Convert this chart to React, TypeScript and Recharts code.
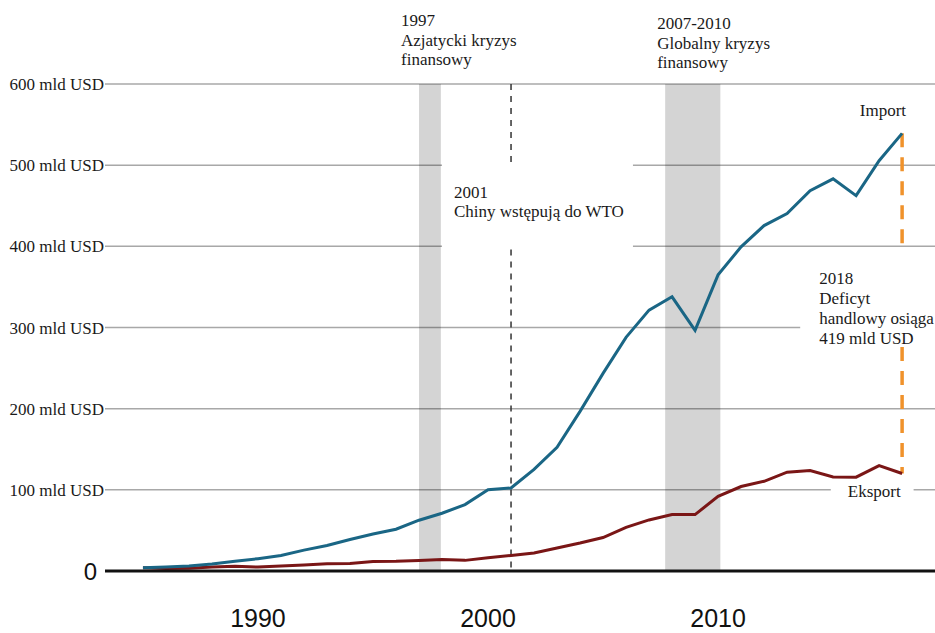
import {
  LineChart,
  Line,
  XAxis,
  YAxis,
  CartesianGrid,
  ReferenceArea,
  ReferenceLine,
} from "recharts";

const years = [
  1985, 1986, 1987, 1988, 1989, 1990, 1991, 1992, 1993, 1994, 1995, 1996,
  1997, 1998, 1999, 2000, 2001, 2002, 2003, 2004, 2005, 2006, 2007, 2008,
  2009, 2010, 2011, 2012, 2013, 2014, 2015, 2016, 2017, 2018,
];

const imports = [
  3.9, 4.8, 6.3, 8.5, 12, 15.2, 19, 25.7, 31.5, 38.8, 45.5, 51.5, 62.6, 71.2,
  81.8, 100, 102.3, 125.2, 152.4, 196.7, 243.5, 287.8, 321.4, 337.8, 296.4,
  364.9, 399.4, 425.6, 440.4, 468.5, 483.2, 462.4, 505.5, 539.2,
];

const exports = [
  3.9, 3.1, 3.5, 5, 5.8, 4.8, 6.3, 7.4, 8.8, 9.3, 11.8, 12, 12.9, 14.2, 13.1,
  16.2, 19.2, 22.1, 28.4, 34.4, 41.2, 53.7, 62.9, 69.7, 69.5, 91.9, 104.1,
  110.5, 121.7, 123.7, 115.9, 115.6, 129.9, 120.1,
];

const yTicks = [0, 100, 200, 300, 400, 500, 600];
const xTicks = [1990, 2000, 2010];

const data = years.map((year, i) => ({
  year,
  import: imports[i],
  export: exports[i],
}));

const SERIF = "'Liberation Serif', 'Times New Roman', serif";
const SANS = "'Liberation Sans', Arial, sans-serif";
const TEXT = "#1a1a1a";

const lastIdx = years.length - 1;
const wtoYear = 2001;

// white boxes behind the annotations (they break the grid lines)
const wtoBox = { x1: 1998, x2: 2006.3, y1: 396, y2: 503 };
const deficitBox = { x1: 2013.57, x2: 2019.43, y1: 276, y2: 395 };
const exportBox = { x1: 2014.9, x2: 2018.5, y1: 88, y2: 108 };

// multi-line annotation, offset from the viewBox corner of its reference element
const noteLabel =
  (lines: string[], dx: number, dy: number, gap = 19.5) =>
  (props: any) => {
    const vb = props.viewBox || {};
    return (
      <text
        x={vb.x + dx}
        y={vb.y + dy}
        fontFamily={SERIF}
        fontSize={17}
        fill={TEXT}
      >
        {lines.map((l, i) => (
          <tspan key={i} x={vb.x + dx} dy={i === 0 ? 0 : gap}>
            {l}
          </tspan>
        ))}
      </text>
    );
  };

const YTick = ({ x, y, payload }: any) =>
  payload.value === 0 ? (
    <text
      x={x - 8}
      y={y + 9}
      textAnchor="end"
      fontFamily={SANS}
      fontSize={24}
      fill="#111"
    >
      0
    </text>
  ) : (
    <text
      x={x - 1}
      y={y + 6}
      textAnchor="end"
      fontFamily={SERIF}
      fontSize={17}
      fill={TEXT}
    >
      {payload.value} mld USD
    </text>
  );

const XTick = ({ x, y, payload }: any) => (
  <text
    x={x}
    y={y + 56}
    textAnchor="middle"
    fontFamily={SANS}
    fontSize={25}
    fill="#111"
  >
    {payload.value}
  </text>
);

const ImportLabel = ({ x, y, index }: any) =>
  index === lastIdx ? (
    <text
      x={x + 4}
      y={y - 17}
      textAnchor="end"
      fontFamily={SERIF}
      fontSize={17}
      fill={TEXT}
    >
      Import
    </text>
  ) : null;

const dashWto = { stroke: "#333", strokeWidth: 1.5, strokeDasharray: "6 6" };
const dashGap = { stroke: "#f0922b", strokeWidth: 3.5, strokeDasharray: "14 10" };

export default function App() {
  return (
    <div style={{ position: "absolute", left: 0, top: 0, background: "#fff" }}>
      <LineChart
        width={935}
        height={633}
        data={data}
        margin={{ top: 84, right: 0, bottom: 0, left: 0 }}
      >
        <CartesianGrid
          horizontal
          vertical={false}
          stroke="#a8a8a8"
          strokeWidth={1.5}
        />
        <XAxis
          dataKey="year"
          type="number"
          domain={[1983.35, 2019.43]}
          ticks={xTicks}
          tickLine={false}
          tickSize={0}
          tickMargin={0}
          height={62}
          axisLine={{ stroke: "#111", strokeWidth: 3 }}
          tick={<XTick />}
        />
        <YAxis
          domain={[0, 600]}
          ticks={yTicks}
          width={105}
          axisLine={false}
          tickLine={false}
          tickSize={0}
          tickMargin={0}
          tick={<YTick />}
        />

        <ReferenceArea
          x1={1997}
          x2={1997.95}
          y1={0}
          y2={600}
          fill="#000"
          fillOpacity={0.17}
          stroke="none"
          label={noteLabel(["1997", "Azjatycki kryzys", "finansowy"], -18, -58)}
        />
        <ReferenceArea
          x1={2007.7}
          x2={2010.1}
          y1={0}
          y2={600}
          fill="#000"
          fillOpacity={0.17}
          stroke="none"
          label={noteLabel(
            ["2007-2010", "Globalny kryzys", "finansowy"],
            -8,
            -55
          )}
        />

        <ReferenceArea
          {...wtoBox}
          fill="#fff"
          fillOpacity={1}
          stroke="none"
          label={noteLabel(["2001", "Chiny wstępują do WTO"], 12, 35)}
        />
        <ReferenceArea
          {...deficitBox}
          fill="#fff"
          fillOpacity={1}
          stroke="none"
          label={noteLabel(
            ["2018", "Deficyt", "handlowy osiąga", "419 mld USD"],
            19,
            34,
            20
          )}
        />
        <ReferenceArea
          {...exportBox}
          fill="#fff"
          fillOpacity={1}
          stroke="none"
          label={noteLabel(["Eksport"], 17, 14)}
        />

        {/* 2001 WTO marker, interrupted by its label */}
        <ReferenceLine
          segment={[
            { x: wtoYear, y: 600 },
            { x: wtoYear, y: wtoBox.y2 },
          ]}
          {...dashWto}
        />
        <ReferenceLine
          segment={[
            { x: wtoYear, y: wtoBox.y1 },
            { x: wtoYear, y: 0 },
          ]}
          {...dashWto}
        />

        {/* 2018 trade gap, interrupted by its label */}
        <ReferenceLine
          segment={[
            { x: years[lastIdx], y: imports[lastIdx] },
            { x: years[lastIdx], y: deficitBox.y2 },
          ]}
          {...dashGap}
        />
        <ReferenceLine
          segment={[
            { x: years[lastIdx], y: deficitBox.y1 },
            { x: years[lastIdx], y: exports[lastIdx] },
          ]}
          {...dashGap}
        />

        <Line
          dataKey="export"
          stroke="#7a1616"
          strokeWidth={3}
          dot={false}
          isAnimationActive={false}
        />
        <Line
          dataKey="import"
          stroke="#1a6685"
          strokeWidth={3}
          dot={false}
          isAnimationActive={false}
          label={<ImportLabel />}
        />
      </LineChart>
    </div>
  );
}
